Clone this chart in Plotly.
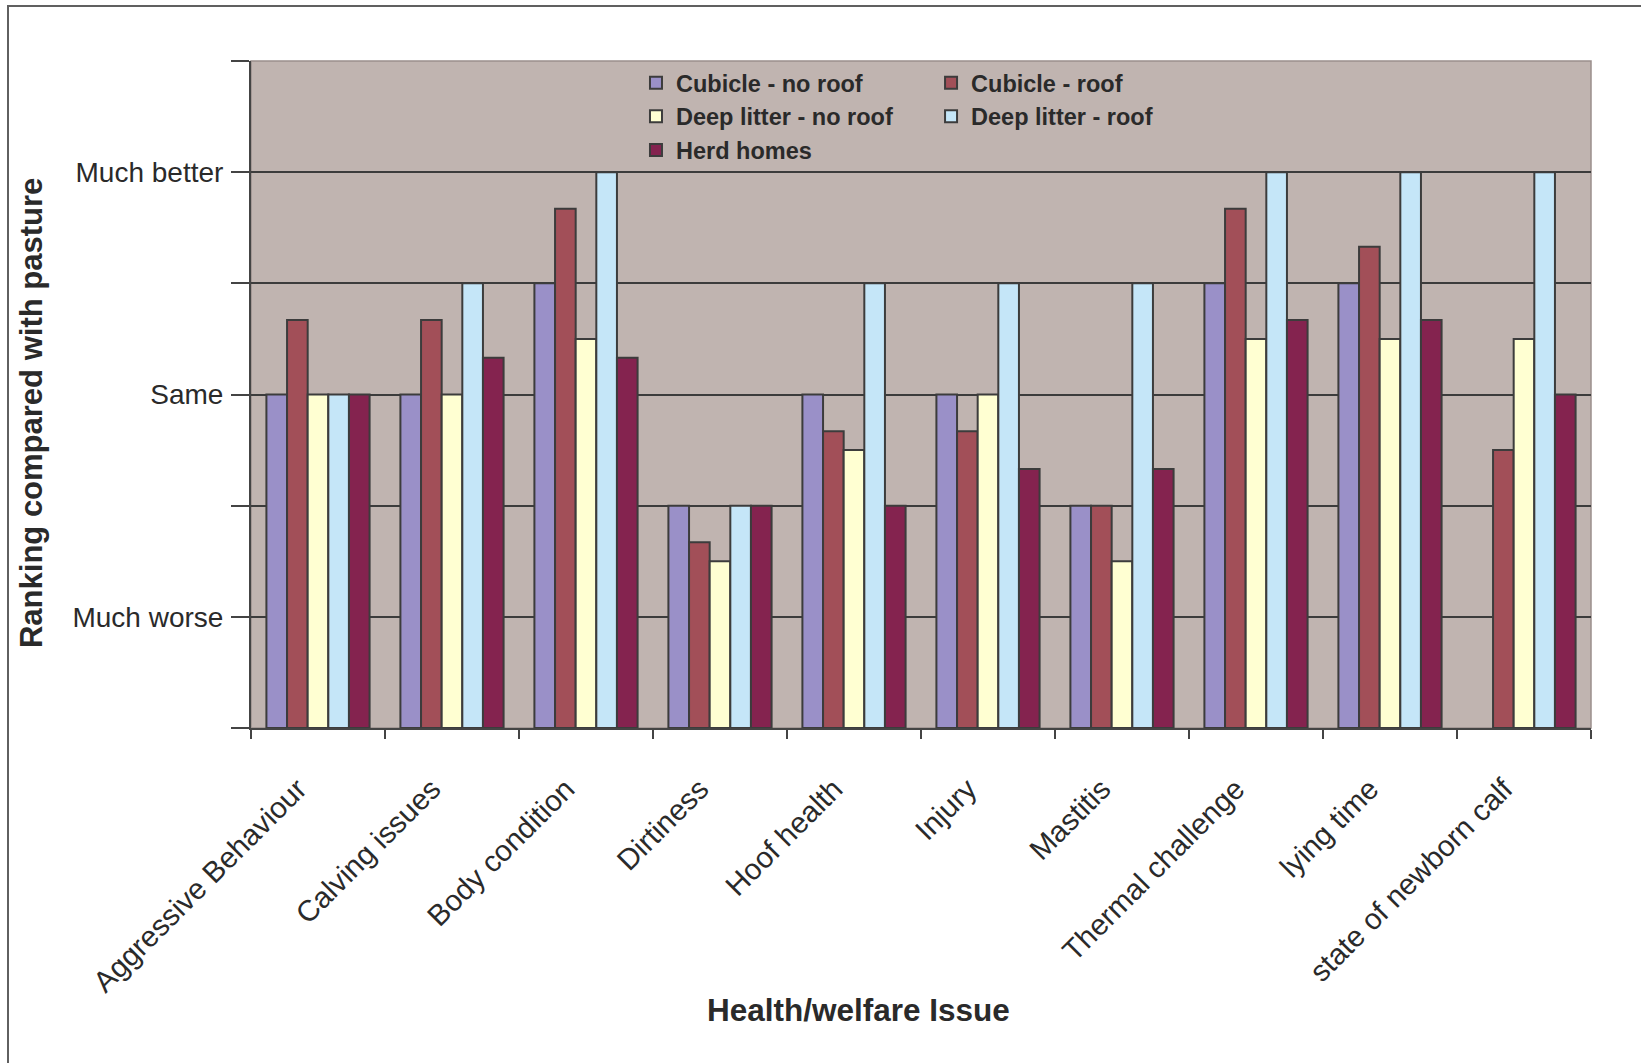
import plotly.graph_objects as go

categories = ["Aggressive Behaviour", "Calving issues", "Body condition", "Dirtiness",
              "Hoof health", "Injury", "Mastitis", "Thermal challenge", "lying time",
              "state of newborn calf"]

cubicle_no_roof = [3, 3, 4, 2, 3, 3, 2, 4, 4, None]
cubicle_roof = [3.67, 3.67, 4.67, 1.67, 2.67, 2.67, 2, 4.67, 4.33, 2.5]
deep_litter_no_roof = [3, 3, 3.5, 1.5, 2.5, 3, 1.5, 3.5, 3.5, 3.5]
deep_litter_roof = [3, 4, 5, 2, 4, 4, 4, 5, 5, 5]
herd_homes = [3, 3.33, 3.33, 2, 2, 2.33, 2.33, 3.67, 3.67, 3]

series_names = ["Cubicle - no roof", "Cubicle - roof", "Deep litter - no roof",
                "Deep litter - roof", "Herd homes"]
series_colors = ["#9A90C8", "#A24F58", "#FFFFD2", "#C5E6F8", "#84234F"]
series_legends = ["legend", "legend2", "legend", "legend2", "legend"]

y_tick_vals = [0, 1, 2, 3, 4, 5]
y_tick_text = ["", "Much worse", "", "Same", "", "Much better"]

series_values = [cubicle_no_roof, cubicle_roof, deep_litter_no_roof, deep_litter_roof, herd_homes]

FONT = "Liberation Sans, Arial, sans-serif"
OUTLINE = "#3c3c3c"

fig = go.Figure()
for name, vals, col, leg in zip(series_names, series_values, series_colors, series_legends):
    fig.add_trace(go.Bar(
        x=categories, y=vals, name=name, legend=leg,
        marker=dict(color=col, line=dict(color=OUTLINE, width=2)),
    ))

legend_font = dict(family=FONT, size=23.5, color="#2a2a2a", weight="bold")

fig.update_layout(
    width=1641, height=1063,
    margin=dict(l=251, r=50, t=61, b=335),
    paper_bgcolor="white",
    plot_bgcolor="#C0B4B0",
    barmode="group",
    bargap=0.23,
    bargroupgap=0,
    font=dict(family=FONT, color="#2a2a2a"),
    legend=dict(x=0.2873, y=1, xanchor="left", yanchor="top", bgcolor="rgba(0,0,0,0)",
                font=legend_font, traceorder="normal"),
    legend2=dict(x=0.5075, y=1, xanchor="left", yanchor="top", bgcolor="rgba(0,0,0,0)",
                 font=legend_font, traceorder="normal"),
    xaxis=dict(
        type="category",
        tickson="boundaries",
        ticks="outside", ticklen=9, tickwidth=2, tickcolor="#444",
        showline=True, linecolor="#444", linewidth=2,
        showgrid=False,
        tickangle=-45,
        tickfont=dict(family=FONT, size=29.5, color="#2a2a2a"),
        ticklabelstandoff=30,
        ticklabelshift=-20,
    ),
    yaxis=dict(
        range=[0, 6],
        tickmode="array", tickvals=y_tick_vals, ticktext=y_tick_text,
        ticks="outside", ticklen=18, tickwidth=2, tickcolor="#444",
        showline=True, linecolor="#444", linewidth=2,
        showgrid=True, gridcolor="#3c3c3c", gridwidth=2,
        zeroline=False,
        tickfont=dict(family=FONT, size=28, color="#2a2a2a"),
        ticklabelstandoff=2,
        minor=dict(tickmode="array", tickvals=[6], ticks="outside", ticklen=18,
                   tickwidth=2, tickcolor="#444", showgrid=False),
    ),
    shapes=[
        dict(type="rect", xref="paper", yref="paper", x0=0, x1=1, y0=0, y1=1,
             line=dict(color="#9a8f8c", width=1.5), layer="below"),
        dict(type="rect", xref="paper", yref="paper", x0=-0.18134, x1=1.3, y0=-1, y1=1.0825,
             line=dict(color="#606060", width=2), fillcolor="rgba(0,0,0,0)"),
    ],
    annotations=[
        dict(text="Health/welfare Issue", xref="paper", yref="paper", x=0.4537, y=-0.4228,
             xanchor="center", yanchor="middle", showarrow=False,
             font=dict(family=FONT, size=31.5, color="#2a2a2a", weight="bold")),
        dict(text="Ranking compared with pasture", xref="paper", yref="paper", x=-0.1634, y=0.4723,
             xanchor="center", yanchor="middle", textangle=-90, showarrow=False,
             font=dict(family=FONT, size=31, color="#2a2a2a", weight="bold")),
    ],
)

fig.write_html("out.html")
